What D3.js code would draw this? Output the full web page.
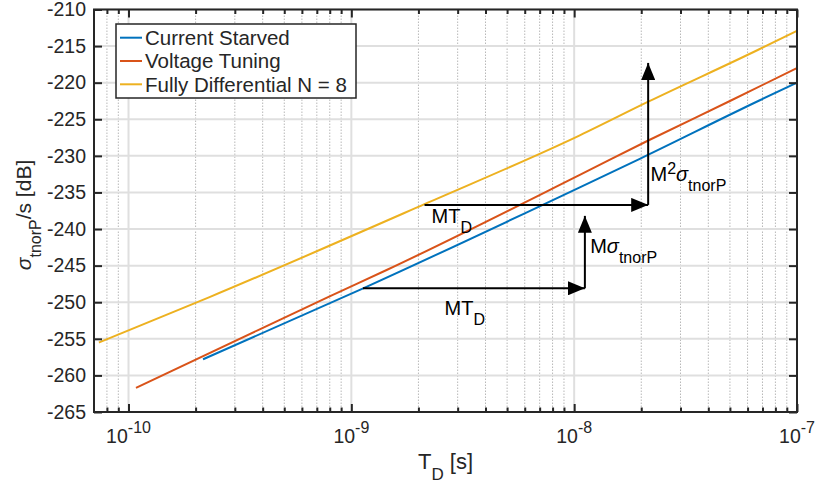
<!DOCTYPE html>
<html>
<head>
<meta charset="utf-8">
<script src="https://cdn.jsdelivr.net/npm/d3@7"></script>
<style>
body { margin: 0; background: #fff; }
text { font-family: "Liberation Sans", Arial, Helvetica, sans-serif; fill: #262626; }
</style>
</head>
<body>
<script>
// Courbes : [T_D (s), sigma (dB)]
const currentStarved = [
  [2.16e-10, -257.8], [1.13e-9, -248.1], [1.06e-8, -234.3],
  [1.97e-8, -230.4], [6.81e-8, -222.4], [1e-7, -220.0]
];
const voltageTuning = [
  [1.08e-10, -261.7], [3.88e-10, -253.7], [7.99e-10, -249.2], [1.44e-9, -245.6],
  [1.06e-8, -232.6], [2.15e-8, -227.9], [5.08e-8, -222.4], [1e-7, -218.0]
];
const fullyDiff = [
  [7.36e-11, -255.5], [2.31e-10, -249.3], [2.13e-9, -236.6], [1.06e-8, -227.2],
  [2.15e-8, -222.6], [6.70e-8, -215.5], [1e-7, -212.9]
];
const seriesNames = ["Current Starved", "Voltage Tuning", "Fully Differential N = 8"];
const seriesColors = ["#0072bd", "#d95319", "#edb120"];

// Graduations
const xMajor = [1e-10, 1e-9, 1e-8, 1e-7];
const xMajorExp = ["-10", "-9", "-8", "-7"];
const yTicks = [-265, -260, -255, -250, -245, -240, -235, -230, -225, -220, -215, -210];

// Flèches d'annotation : [T début, dB début, T fin, dB fin]
const arrows = [
  [1.127e-9, -248.1, 1.117e-8, -248.1],
  [1.117e-8, -248.1, 1.117e-8, -238.2],
  [2.13e-9, -236.7, 2.148e-8, -236.7],
  [2.148e-8, -236.7, 2.148e-8, -217.3]
];
// Textes d'annotation : position (T, dB) et morceaux [texte, type]
const notes = [
  {t: 2.29e-9, v: -239.2, parts: [["MT", "base"], ["D", "sub"]]},
  {t: 2.62e-9, v: -251.75, parts: [["MT", "base"], ["D", "sub"]]},
  {t: 1.18e-8, v: -243.3, parts: [["M", "base"], ["σ", "base"], ["tnorP", "sub"]]},
  {t: 2.20e-8, v: -233.5, parts: [["M", "base"], ["2", "sup"], ["σ", "base"], ["tnorP", "sub"]]}
];

const W = 819, H = 485;
const box = {left: 94, right: 797, top: 9.5, bottom: 412};

const svg = d3.select("body").append("svg")
  .attr("width", W).attr("height", H);

const x = d3.scaleLog().domain([7e-11, 1e-7]).range([box.left, box.right]);
const y = d3.scaleLinear().domain([-265, -210]).range([box.bottom, box.top]);

// graduations mineures 2..9 par décade
const xMinor = [];
[-11, -10, -9, -8].forEach(e => {
  for (let k = 2; k <= 9; k++) {
    const v = k * Math.pow(10, e);
    if (v > 7e-11 && v < 1e-7) xMinor.push(v);
  }
});

// Grille
const grid = svg.append("g");
grid.selectAll(".gm").data(xMinor).join("line")
  .attr("x1", d => x(d)).attr("x2", d => x(d))
  .attr("y1", box.top).attr("y2", box.bottom)
  .attr("stroke", "#b8b8b8").attr("stroke-width", 1)
  .attr("stroke-dasharray", "1.5,1.5");
grid.selectAll(".gx").data(xMajor).join("line")
  .attr("x1", d => x(d)).attr("x2", d => x(d))
  .attr("y1", box.top).attr("y2", box.bottom)
  .attr("stroke", "#dfdfdf").attr("stroke-width", 2);
grid.selectAll(".gy").data(yTicks).join("line")
  .attr("x1", box.left).attr("x2", box.right)
  .attr("y1", d => y(d)).attr("y2", d => y(d))
  .attr("stroke", "#dfdfdf").attr("stroke-width", 2);

// Courbes
const line = d3.line().x(d => x(d[0])).y(d => y(d[1])).curve(d3.curveMonotoneX);
[currentStarved, voltageTuning, fullyDiff].forEach((s, i) => {
  svg.append("path").datum(s)
    .attr("d", line)
    .attr("fill", "none")
    .attr("stroke", seriesColors[i])
    .attr("stroke-width", 2);
});

// Flèches
svg.append("defs").append("marker")
  .attr("id", "head").attr("viewBox", "0 0 17 14")
  .attr("refX", 17).attr("refY", 7)
  .attr("markerWidth", 17).attr("markerHeight", 14)
  .attr("markerUnits", "userSpaceOnUse").attr("orient", "auto")
  .append("path").attr("d", "M0,0L17,7L0,14Z").attr("fill", "#000");

svg.selectAll(".arrow").data(arrows).join("line")
  .attr("x1", d => x(d[0])).attr("y1", d => y(d[1]))
  .attr("x2", d => x(d[2])).attr("y2", d => y(d[3]))
  .attr("stroke", "#000").attr("stroke-width", 2)
  .attr("marker-end", "url(#head)");

// texte avec indices / exposants
function richText(sel, parts, size, small, subDy, supDy) {
  let off = 0;
  parts.forEach(([s, k]) => {
    const target = k === "sub" ? subDy : (k === "sup" ? supDy : 0);
    sel.append("tspan")
      .attr("dy", target - off)
      .attr("font-size", k === "base" ? size : small)
      .attr("font-style", s === "σ" ? "italic" : null)
      .text(s);
    off = target;
  });
}

notes.forEach(n => {
  const t = svg.append("text")
    .attr("x", x(n.t)).attr("y", y(n.v))
    .style("fill", "#000");
  richText(t, n.parts, 20, 16, 10, -7);
});

// Légende
const lg = svg.append("g");
lg.append("rect")
  .attr("x", 116).attr("y", 24).attr("width", 240).attr("height", 74)
  .attr("fill", "#fff").attr("stroke", "#262626").attr("stroke-width", 1.5);
seriesNames.forEach((name, i) => {
  const yy = 37.7 + i * 23.3;
  lg.append("line")
    .attr("x1", 120).attr("x2", 142).attr("y1", yy).attr("y2", yy)
    .attr("stroke", seriesColors[i]).attr("stroke-width", 2);
  lg.append("text")
    .attr("x", 145).attr("y", yy).attr("dy", "0.36em")
    .attr("font-size", 20.5).text(name);
});

// Axes
const ax = svg.append("g").attr("color", "#262626");
ax.append("g").attr("transform", `translate(0,${box.bottom})`)
  .call(d3.axisBottom(x).tickValues(xMajor).tickSize(-8).tickFormat(""));
ax.append("g").attr("transform", `translate(0,${box.bottom})`)
  .call(d3.axisBottom(x).tickValues(xMinor).tickSize(-4.5).tickFormat(""));
ax.append("g").attr("transform", `translate(0,${box.top})`)
  .call(d3.axisTop(x).tickValues(xMajor).tickSize(-8).tickFormat(""));
ax.append("g").attr("transform", `translate(0,${box.top})`)
  .call(d3.axisTop(x).tickValues(xMinor).tickSize(-4.5).tickFormat(""));
ax.append("g").attr("transform", `translate(${box.left},0)`)
  .call(d3.axisLeft(y).tickValues(yTicks).tickSize(-8).tickPadding(8).tickFormat(d => String(d)));
ax.append("g").attr("transform", `translate(${box.right},0)`)
  .call(d3.axisRight(y).tickValues(yTicks).tickSize(-8).tickFormat(""));
ax.selectAll(".domain").remove();
ax.selectAll(".tick line").attr("stroke-width", 2);
ax.selectAll("g").attr("font-family", null).attr("font-size", null);
ax.selectAll("text").attr("font-size", 19.5);

svg.append("rect")
  .attr("x", box.left).attr("y", box.top)
  .attr("width", box.right - box.left).attr("height", box.bottom - box.top)
  .attr("fill", "none").attr("stroke", "#262626").attr("stroke-width", 2);

// étiquettes de l'axe x : 10^n
xMajor.forEach((v, i) => {
  const t = svg.append("text")
    .attr("x", x(v)).attr("y", 443.3)
    .attr("text-anchor", "middle");
  t.append("tspan").attr("font-size", 19.5).text("10");
  t.append("tspan").attr("font-size", 16).attr("dy", -10).text(xMajorExp[i]);
});

// Titres des axes
const xl = svg.append("text")
  .attr("x", (box.left + box.right) / 2).attr("y", 469)
  .attr("text-anchor", "middle");
richText(xl, [["T", "base"], ["D", "sub"], [" [s]", "base"]], 22, 17, 11, 0);

const yl = svg.append("text")
  .attr("transform", "translate(31,215) rotate(-90)")
  .attr("text-anchor", "middle");
richText(yl, [["σ", "base"], ["tnorP", "sub"], ["/s [dB]", "base"]], 21, 16, 10, 0);
</script>
</body>
</html>
